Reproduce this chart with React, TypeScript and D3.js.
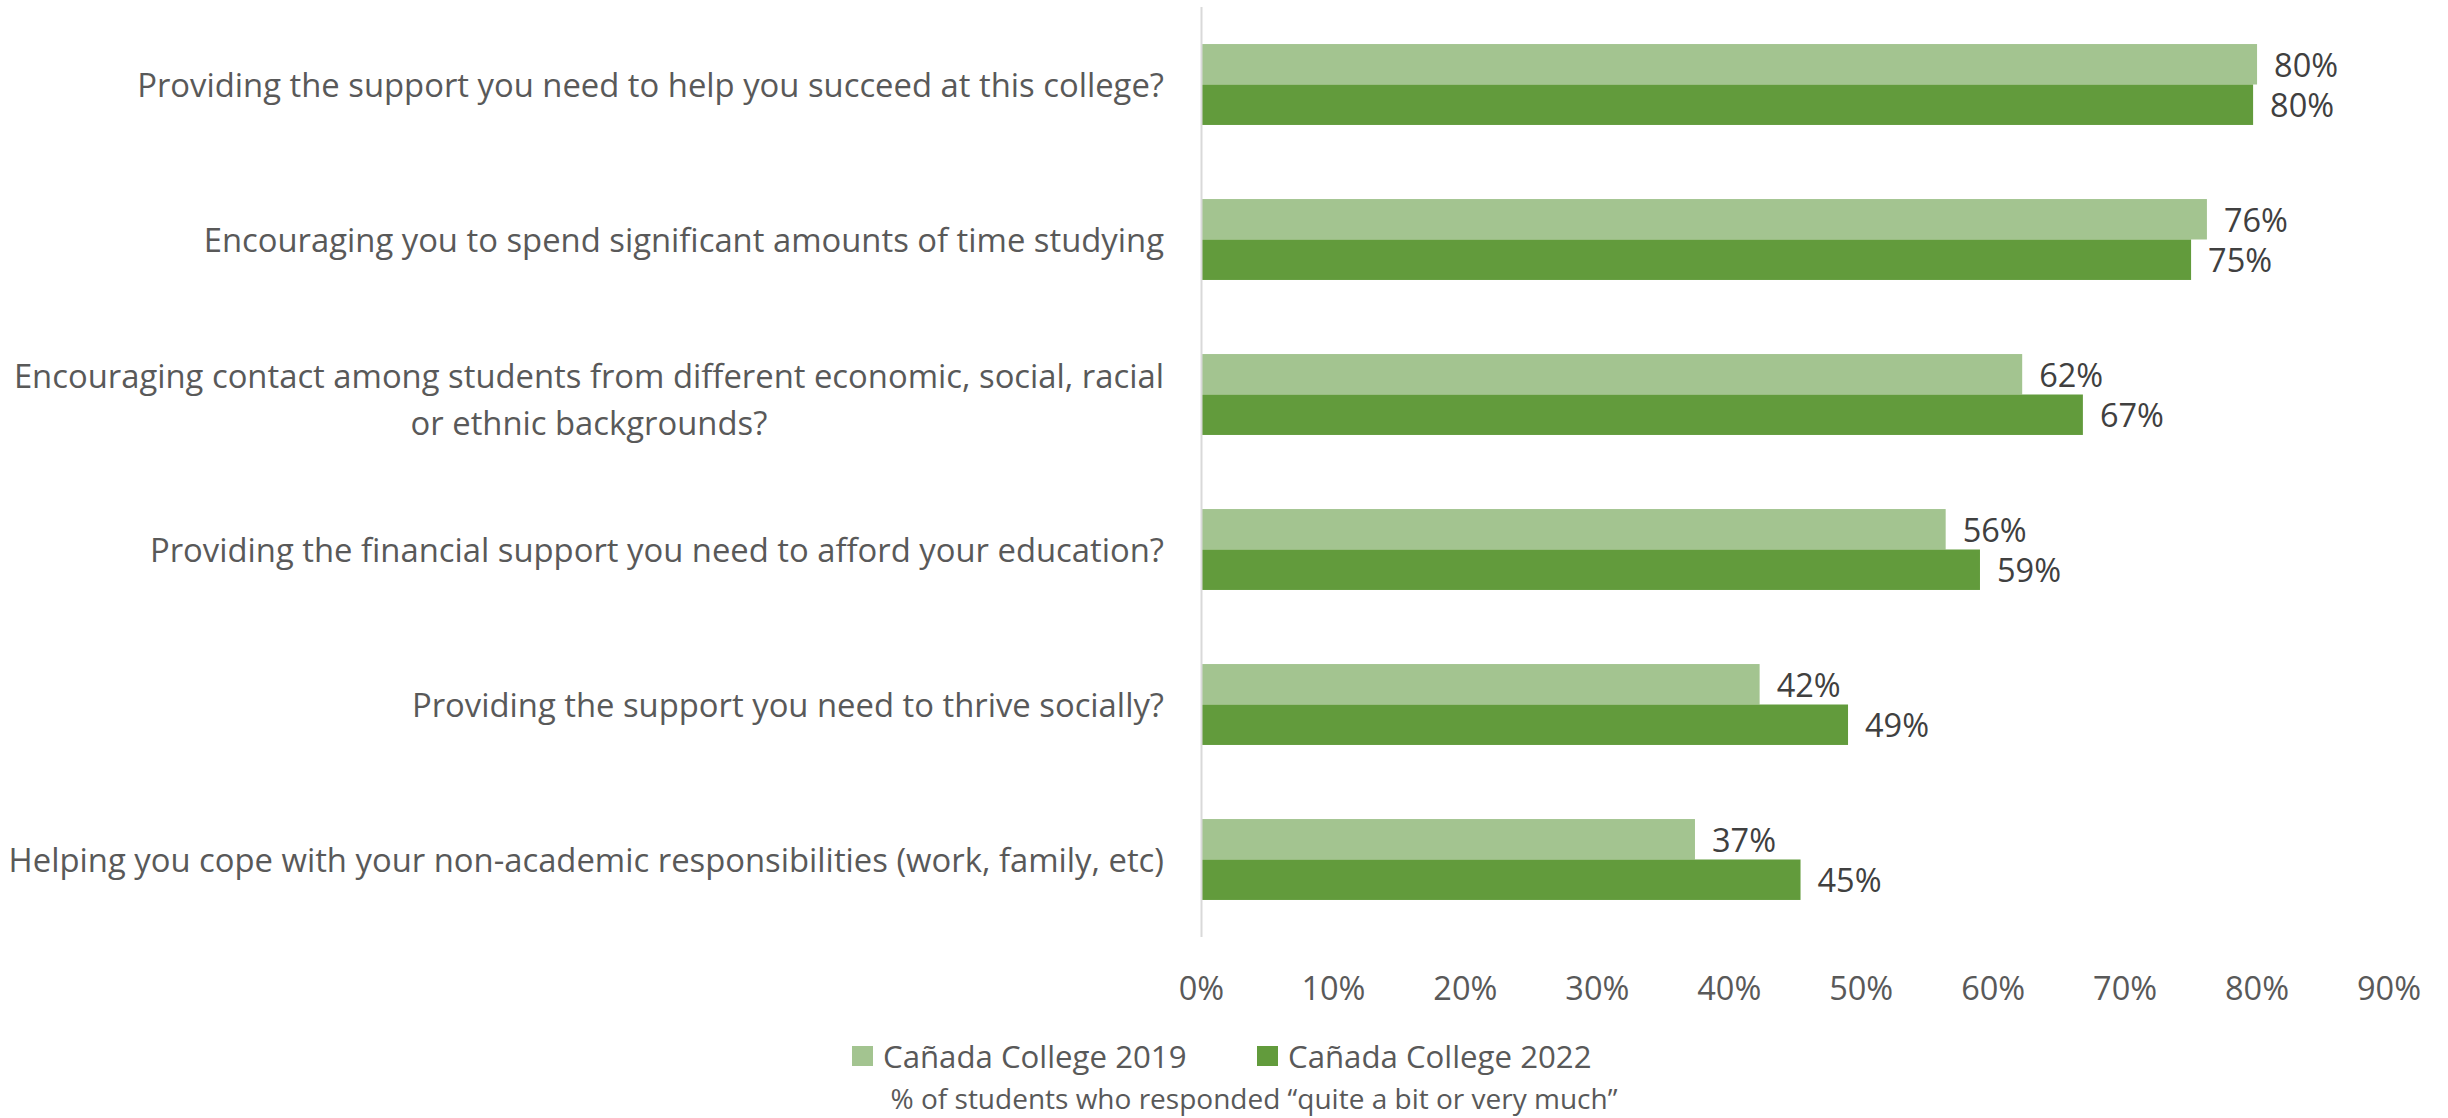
import React, { useEffect, useRef } from "react";
import * as d3 from "d3";

const categories: string[][] = [
  ["Providing the support you need to help you succeed at this college?"],
  ["Encouraging you to spend significant amounts of time studying"],
  ["Encouraging contact among students from different economic, social, racial", "or ethnic backgrounds?"],
  ["Providing the financial support you need to afford your education?"],
  ["Providing the support you need to thrive socially?"],
  ["Helping you cope with your non-academic responsibilities (work, family, etc)"],
];
const values2019: number[] = [80.0, 76.2, 62.2, 56.4, 42.3, 37.4];
const values2022: number[] = [79.7, 75.0, 66.8, 59.0, 49.0, 45.4];
const seriesNames: string[] = ["Cañada College 2019", "Cañada College 2022"];
const tickValues: number[] = [0, 10, 20, 30, 40, 50, 60, 70, 80, 90];
const footnote = "% of students who responded \u201Cquite a bit or very much\u201D";

const W = 2448;
const H = 1118;
const FONT = "'Open Sans', 'Noto Sans', sans-serif";
const COLORS = ["#A3C490", "#629B3C"];
const TEXT = "#595959";
const VALUE_TEXT = "#404040";

export default function App() {
  const ref = useRef<SVGSVGElement | null>(null);

  useEffect(() => {
    const svg = d3.select(ref.current);
    svg.selectAll("*").remove();

    const x = d3.scaleLinear().domain([0, 90]).range([1201.5, 2389]);
    const y = d3
      .scaleBand<number>()
      .domain(d3.range(categories.length))
      .range([7, 937])
      .paddingInner(0.478)
      .paddingOuter(0.239);
    const sub = d3.scaleBand<number>().domain([0, 1]).range([0, y.bandwidth()]);

    const series = [values2019, values2022];

    // bars
    series.forEach((vals, si) => {
      svg
        .append("g")
        .selectAll("rect")
        .data(vals)
        .join("rect")
        .attr("x", x(0))
        .attr("y", (_d, i) => (y(i) as number) + (sub(si) as number))
        .attr("width", (d) => x(d) - x(0))
        .attr("height", sub.bandwidth())
        .attr("fill", COLORS[si]);

      svg
        .append("g")
        .selectAll("text")
        .data(vals)
        .join("text")
        .attr("x", (d) => x(d) + 17)
        .attr("y", (_d, i) => (y(i) as number) + (sub(si) as number) + sub.bandwidth() / 2)
        .attr("dominant-baseline", "central")
        .attr("font-family", FONT)
        .attr("font-size", 32.5)
        .attr("fill", VALUE_TEXT)
        .text((d) => `${Math.round(d)}%`);
    });

    // axis line
    svg
      .append("line")
      .attr("x1", x(0))
      .attr("x2", x(0))
      .attr("y1", 7)
      .attr("y2", 937)
      .attr("stroke", "#D9D9D9")
      .attr("stroke-width", 2);

    // tick labels
    svg
      .append("g")
      .selectAll("text")
      .data(tickValues)
      .join("text")
      .attr("x", (d) => x(d))
      .attr("y", 987)
      .attr("text-anchor", "middle")
      .attr("dominant-baseline", "central")
      .attr("font-family", FONT)
      .attr("font-size", 32.5)
      .attr("fill", TEXT)
      .text((d) => `${d}%`);

    // category labels
    const labelRight = 1164;
    const lineH = 47;
    categories.forEach((lines, i) => {
      const cy = (y(i) as number) + y.bandwidth() / 2;
      const g = svg.append("g");
      const texts = lines.map((ln, li) =>
        g
          .append("text")
          .attr("y", cy + (li - (lines.length - 1) / 2) * lineH + (lines.length > 1 ? 4 : 0))
          .attr("dominant-baseline", "central")
          .attr("font-family", FONT)
          .attr("font-size", 32.8)
          .attr("fill", TEXT)
          .text(ln)
      );
      const widths = texts.map((t) => (t.node() as SVGTextElement).getComputedTextLength());
      const maxW = Math.max(...widths);
      const center = labelRight - maxW / 2;
      texts.forEach((t) => t.attr("x", center).attr("text-anchor", "middle"));
    });

    // legend
    const legendX = [852, 1257];
    seriesNames.forEach((name, si) => {
      svg
        .append("rect")
        .attr("x", legendX[si])
        .attr("y", 1046)
        .attr("width", 21)
        .attr("height", 20)
        .attr("fill", COLORS[si]);
      svg
        .append("text")
        .attr("x", legendX[si] + 31)
        .attr("y", 1056)
        .attr("dominant-baseline", "central")
        .attr("font-family", FONT)
        .attr("font-size", 31.2)
        .attr("fill", TEXT)
        .text(name);
    });

    // footnote
    svg
      .append("text")
      .attr("x", 1254)
      .attr("y", 1098)
      .attr("text-anchor", "middle")
      .attr("dominant-baseline", "central")
      .attr("font-family", FONT)
      .attr("font-size", 28)
      .attr("fill", TEXT)
      .text(footnote);
  }, []);

  return (
    <svg
      ref={ref}
      width={W}
      height={H}
      viewBox={`0 0 ${W} ${H}`}
      style={{ position: "absolute", left: 0, top: 0, background: "#fff" }}
    />
  );
}
